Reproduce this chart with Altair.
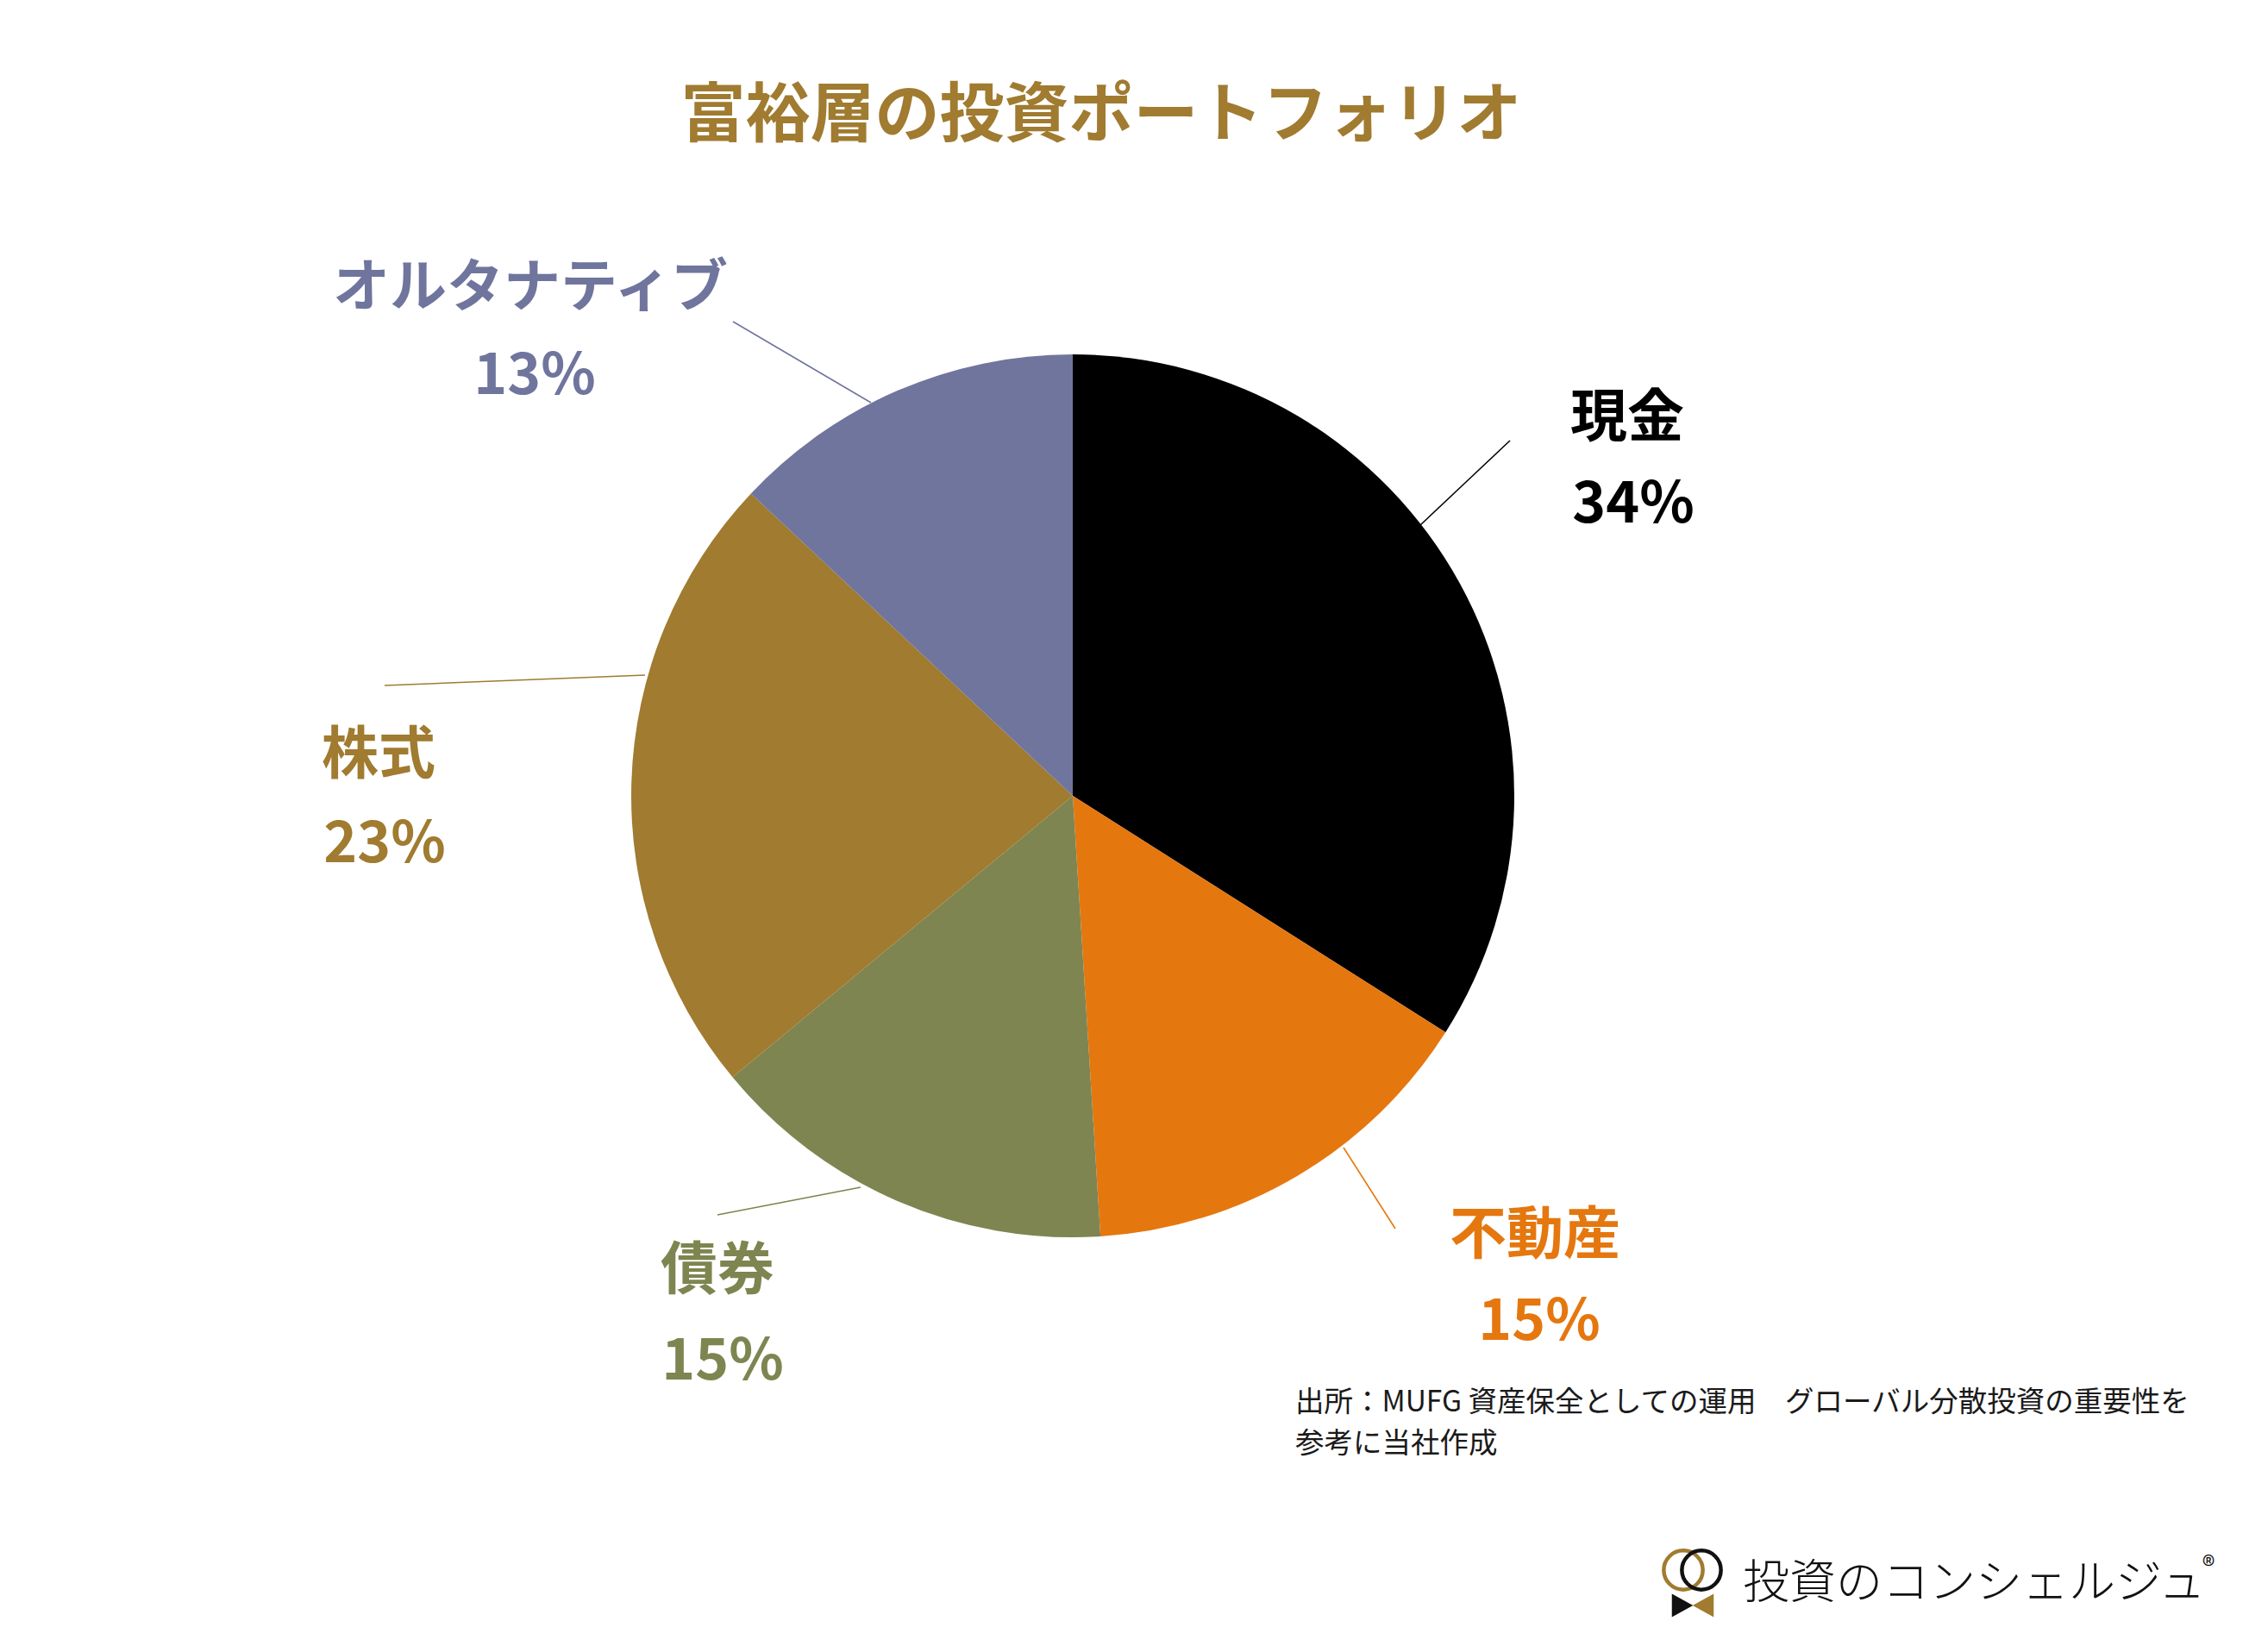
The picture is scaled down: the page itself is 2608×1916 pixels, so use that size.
import altair as alt
import pandas as pd

# ---- data ----
categories = ["現金", "不動産", "債券", "株式", "オルタナティブ"]
shares = [34, 15, 15, 23, 13]
colors = ["#000000", "#E5770F", "#7E8550", "#A07B30", "#70759D"]

title_text = "富裕層の投資ポートフォリオ"
source_lines = [
    "出所：MUFG 資産保全としての運用　グローバル分散投資の重要性を",
    "参考に当社作成",
]
logo_text = "投資のコンシェルジュ"

# ---- layout (pixels, chart coordinates) ----
W, H = 2592, 1900
FONT = "Noto Sans CJK JP"
PIE_CX, PIE_CY, PIE_R = 1236, 915, 512
name_pos = [(1879, 478), (1772, 1426), (824, 1467), (431, 869), (607, 327)]
pct_pos = [(1886, 578), (1777, 1526), (830, 1572), (438, 972), (612, 429)]
leader = [
    (1639, 601, 1743, 503),
    (1550, 1323, 1610, 1417),
    (990, 1369, 824, 1401),
    (740, 775, 438, 787),
    (1002, 459, 842, 365),
]

color_scale = alt.Scale(domain=categories, range=colors)

pie_df = pd.DataFrame({"cat": categories, "share": shares, "idx": range(len(categories))})

pie = alt.Chart(pie_df).mark_arc(radius=PIE_R, stroke=None).encode(
    theta=alt.Theta("share:Q", stack=True),
    order=alt.Order("idx:Q"),
    color=alt.Color("cat:N", scale=color_scale, legend=None),
    x=alt.value(PIE_CX),
    y=alt.value(PIE_CY),
)

lead_df = pd.DataFrame({
    "cat": categories,
    "x1": [l[0] for l in leader], "y1": [l[1] for l in leader],
    "x2": [l[2] for l in leader], "y2": [l[3] for l in leader],
})
lines = alt.Chart(lead_df).mark_rule(strokeWidth=1.6).encode(
    x=alt.X("x1:Q", scale=None, axis=None),
    y=alt.Y("y1:Q", scale=None, axis=None),
    x2="x2:Q", y2="y2:Q",
    color=alt.Color("cat:N", scale=color_scale, legend=None),
)

lab_rows = []
for c, s, (nx, ny), (px, py) in zip(categories, shares, name_pos, pct_pos):
    lab_rows.append({"cat": c, "txt": c, "px": nx, "py": ny})
    lab_rows.append({"cat": c, "txt": f"{s}%", "px": px, "py": py})
lab_df = pd.DataFrame(lab_rows)
labels = alt.Chart(lab_df).mark_text(
    font=FONT, fontSize=66, fontWeight="bold", align="center", baseline="middle"
).encode(
    x=alt.X("px:Q", scale=None, axis=None),
    y=alt.Y("py:Q", scale=None, axis=None),
    text="txt:N",
    color=alt.Color("cat:N", scale=color_scale, legend=None),
)

title = alt.Chart(pd.DataFrame({"t": [title_text]})).mark_text(
    font=FONT, fontSize=75, fontWeight="bold", color="#A07B30", align="center", baseline="middle"
).encode(x=alt.value(1269), y=alt.value(127), text="t:N")

src_df = pd.DataFrame({"t": source_lines, "py": [1619, 1667]})
source = alt.Chart(src_df).mark_text(
    font=FONT, fontSize=33.5, color="#1a1a1a", align="left", baseline="middle"
).encode(x=alt.value(1494), y=alt.Y("py:Q", scale=None, axis=None), text="t:N")

# logo
ring_df = pd.DataFrame({"px": [1944, 1965], "c": ["#A07B30", "#111111"]})
rings = alt.Chart(ring_df).mark_point(shape="circle", filled=False, size=2050, strokeWidth=4.5, opacity=1).encode(
    x=alt.X("px:Q", scale=None, axis=None), y=alt.value(1813), stroke=alt.Stroke("c:N", scale=None)
)
tri_df = pd.DataFrame({"px": [1943, 1967], "shp": ["M -0.9 -1 L 0.9 0 L -0.9 1 Z", "M 0.9 -1 L -0.9 0 L 0.9 1 Z"],
                       "c": ["#111111", "#A07B30"]})
tris = alt.Chart(tri_df).mark_point(filled=True, size=740, opacity=1, strokeWidth=0).encode(
    x=alt.X("px:Q", scale=None, axis=None), y=alt.value(1854),
    shape=alt.Shape("shp:N", scale=None), fill=alt.Fill("c:N", scale=None)
)
logo = alt.Chart(pd.DataFrame({"t": [logo_text]})).mark_text(
    font=FONT, fontSize=54, fontWeight=300, color="#111111", align="left", baseline="middle"
).encode(x=alt.value(2013), y=alt.value(1830), text="t:N")
reg = alt.Chart(pd.DataFrame({"t": ["®"]})).mark_text(
    font=FONT, fontSize=30, color="#111111", align="center", baseline="middle"
).encode(x=alt.value(2553), y=alt.value(1810), text="t:N")

chart = alt.layer(pie, lines, labels, title, source, rings, tris, logo, reg).properties(
    width=W, height=H, padding=0,
    autosize=alt.AutoSizeParams(type="fit", contains="padding"),
    background="white",
).configure_view(stroke=None)

chart.save("out.html", embed_options={"renderer": "svg", "actions": False})
